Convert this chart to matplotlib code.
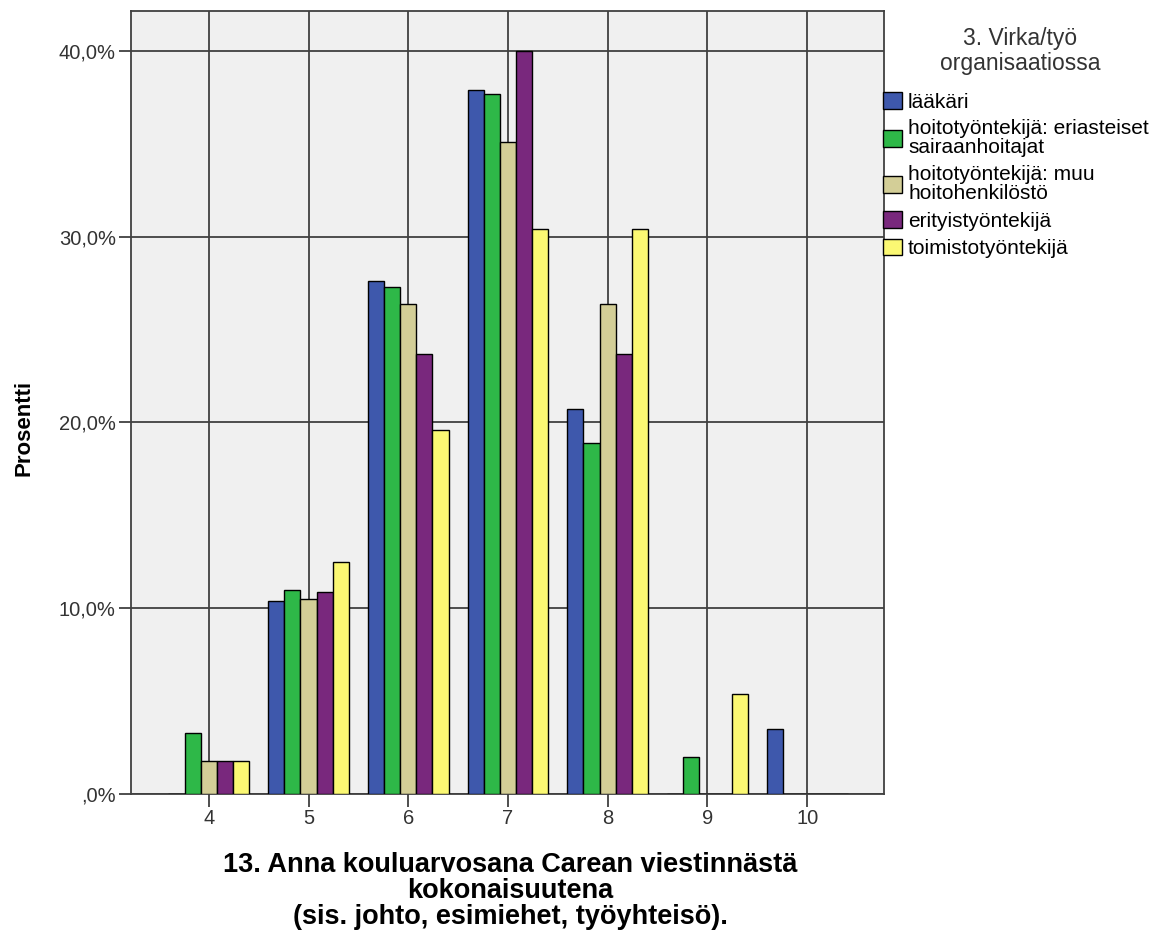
import matplotlib.pyplot as plt
import numpy as np
from matplotlib.ticker import FuncFormatter

categories = [4, 5, 6, 7, 8, 9, 10]
series_names = [
    "lääkäri",
    "hoitotyöntekijä: eriasteiset\nsairaanhoitajat",
    "hoitotyöntekijä: muu\nhoitohenkilöstö",
    "erityistyöntekijä",
    "toimistotyöntekijä",
]
laakari = [0.0, 10.4, 27.6, 37.9, 20.7, 0.0, 3.5]
eriasteiset = [3.3, 11.0, 27.3, 37.7, 18.9, 2.0, 0.0]
muu = [1.8, 10.5, 26.4, 35.1, 26.4, 0.0, 0.0]
erityis = [1.8, 10.9, 23.7, 40.0, 23.7, 0.0, 0.0]
toimisto = [1.8, 12.5, 19.6, 30.4, 30.4, 5.4, 0.0]
values = [laakari, eriasteiset, muu, erityis, toimisto]
colors = ["#3e58ac", "#2eb848", "#d3ce97", "#79287d", "#fbf873"]

plt.rcParams["font.family"] = ["Liberation Sans", "DejaVu Sans"]

fig = plt.figure(figsize=(11.6, 9.41), dpi=100)
ax = fig.add_axes([131 / 1160, 1 - 794 / 941, (884 - 131) / 1160, (794 - 11) / 941])
ax.set_facecolor("#f0f0f0")

x = np.array(categories, dtype=float)
width = 0.162
for i, (name, vals) in enumerate(zip(series_names, values)):
    offset = (i - 2) * width
    ax.bar(x + offset, vals, width, color=colors[i], edgecolor="black",
           linewidth=1.0, label=name, zorder=3)

ax.set_xlim(3.22, 10.77)
ax.set_ylim(0, 42.15)
ax.set_xticks(categories)
ax.set_yticks([0, 10, 20, 30, 40])
ax.yaxis.set_major_formatter(FuncFormatter(
    lambda v, p: (",0%" if v == 0 else f"{v:.1f}%".replace(".", ","))))
ax.grid(True, color="#404040", linewidth=1.3, zorder=0)
ax.set_axisbelow(True)
for s in ax.spines.values():
    s.set_color("#404040")
    s.set_linewidth(1.3)
ax.tick_params(axis="both", direction="out", length=9, width=1.3,
               color="#404040", labelsize=14.5, labelcolor="#333333", pad=2)

fig.text(24 / 1160, 1 - 428 / 941, "Prosentti", rotation=90, ha="center",
         va="center", fontsize=16, fontweight="bold")
fig.text(510 / 1160, 1 - 852 / 941,
         "13. Anna kouluarvosana Carean viestinnästä\nkokonaisuutena\n(sis. johto, esimiehet, työyhteisö).",
         ha="center", va="top", fontsize=19.5, fontweight="bold", linespacing=1.0)

fig.text(1020 / 1160, 1 - 27 / 941, "3. Virka/työ\norganisaatiossa", ha="center",
         va="top", fontsize=16.5, color="#333333", linespacing=1.1)

leg = fig.legend(loc="upper left", bbox_to_anchor=(883 / 1160, 1 - 92 / 941),
                 frameon=False, fontsize=15, handlelength=0.9, handleheight=0.85,
                 handletextpad=0.3, labelspacing=0.38, borderpad=0, borderaxespad=0)
for t in leg.get_texts():
    t.set_linespacing(1.0)

fig.savefig("out.png", dpi=100)
